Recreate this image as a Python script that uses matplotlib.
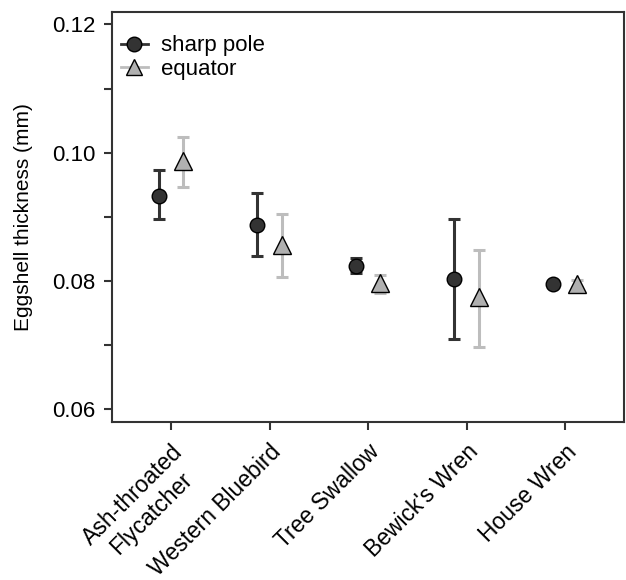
import numpy as np
import matplotlib.pyplot as plt
from matplotlib.lines import Line2D

plt.rcParams['font.family'] = ['Liberation Sans', 'DejaVu Sans']

species = ['Ash-throated\nFlycatcher', 'Western Bluebird', 'Tree Swallow',
           "Bewick's Wren", 'House Wren']
sharp_mean = [0.0932, 0.0887, 0.0824, 0.0803, 0.0795]
sharp_lo = [0.0896, 0.0839, 0.0812, 0.0710, 0.0790]
sharp_hi = [0.0973, 0.0938, 0.0836, 0.0896, 0.0800]
eq_mean = [0.0987, 0.0856, 0.0797, 0.0775, 0.0796]
eq_lo = [0.0947, 0.0806, 0.0782, 0.0697, 0.0791]
eq_hi = [0.1025, 0.0904, 0.0809, 0.0849, 0.0801]

y_ticks = [0.06, 0.07, 0.08, 0.09, 0.10, 0.11, 0.12]
y_labels = ['0.06', '', '0.08', '', '0.10', '', '0.12']

dark = '#333333'
light = '#bdbdbd'
fill_eq = '#b0b0b0'

fig = plt.figure(figsize=(6.26, 5.8), dpi=100)
ax = fig.add_axes([0.179, 0.272, 0.818, 0.707])

x = np.arange(1, len(species) + 1)
dodge = 0.125

sm = np.array(sharp_mean)
em = np.array(eq_mean)
ax.errorbar(x - dodge, sm, yerr=[sm - np.array(sharp_lo), np.array(sharp_hi) - sm],
            fmt='none', ecolor=dark, elinewidth=2.2, capsize=4, capthick=2.2, zorder=2)
ax.errorbar(x + dodge, em, yerr=[em - np.array(eq_lo), np.array(eq_hi) - em],
            fmt='none', ecolor=light, elinewidth=2.2, capsize=4, capthick=2.2, zorder=2)
ax.plot(x - dodge, sm, 'o', ms=10.5, mfc=dark, mec='black', mew=1, ls='none', zorder=3)
ax.plot(x + dodge, em, '^', ms=12.5, mfc=fill_eq, mec='black', mew=1, ls='none', zorder=3)

ax.set_xlim(0.4, 5.6)
ax.set_ylim(0.0580, 0.1219)
ax.set_yticks(y_ticks)
ax.set_yticklabels(y_labels, fontsize=16)
ax.set_xticks(x)
ax.set_xticklabels(species, rotation=45, ha='right', rotation_mode='anchor',
                   multialignment='center', fontsize=16.5)

ax.tick_params(axis='both', direction='out', length=6, width=1.5, color=dark,
               labelcolor='black')
ax.tick_params(axis='x', pad=7)
ax.tick_params(axis='y', pad=6)
for s in ax.spines.values():
    s.set_color(dark)
    s.set_linewidth(1.5)

ax.set_ylabel('Eggshell thickness (mm)', fontsize=15, labelpad=14)

handles = [
    Line2D([0], [0], color=dark, lw=2, marker='o', ms=10.5, mfc=dark, mec='black'),
    Line2D([0], [0], color=light, lw=2, marker='^', ms=12, mfc=fill_eq, mec='black'),
]
ax.legend(handles, ['sharp pole', 'equator'], loc='upper left', frameon=False,
          fontsize=16, handlelength=1.2, handletextpad=0.6, labelspacing=0.1,
          borderaxespad=0.0, bbox_to_anchor=(0.0, 0.965))

fig.savefig('out.png', dpi=100)
